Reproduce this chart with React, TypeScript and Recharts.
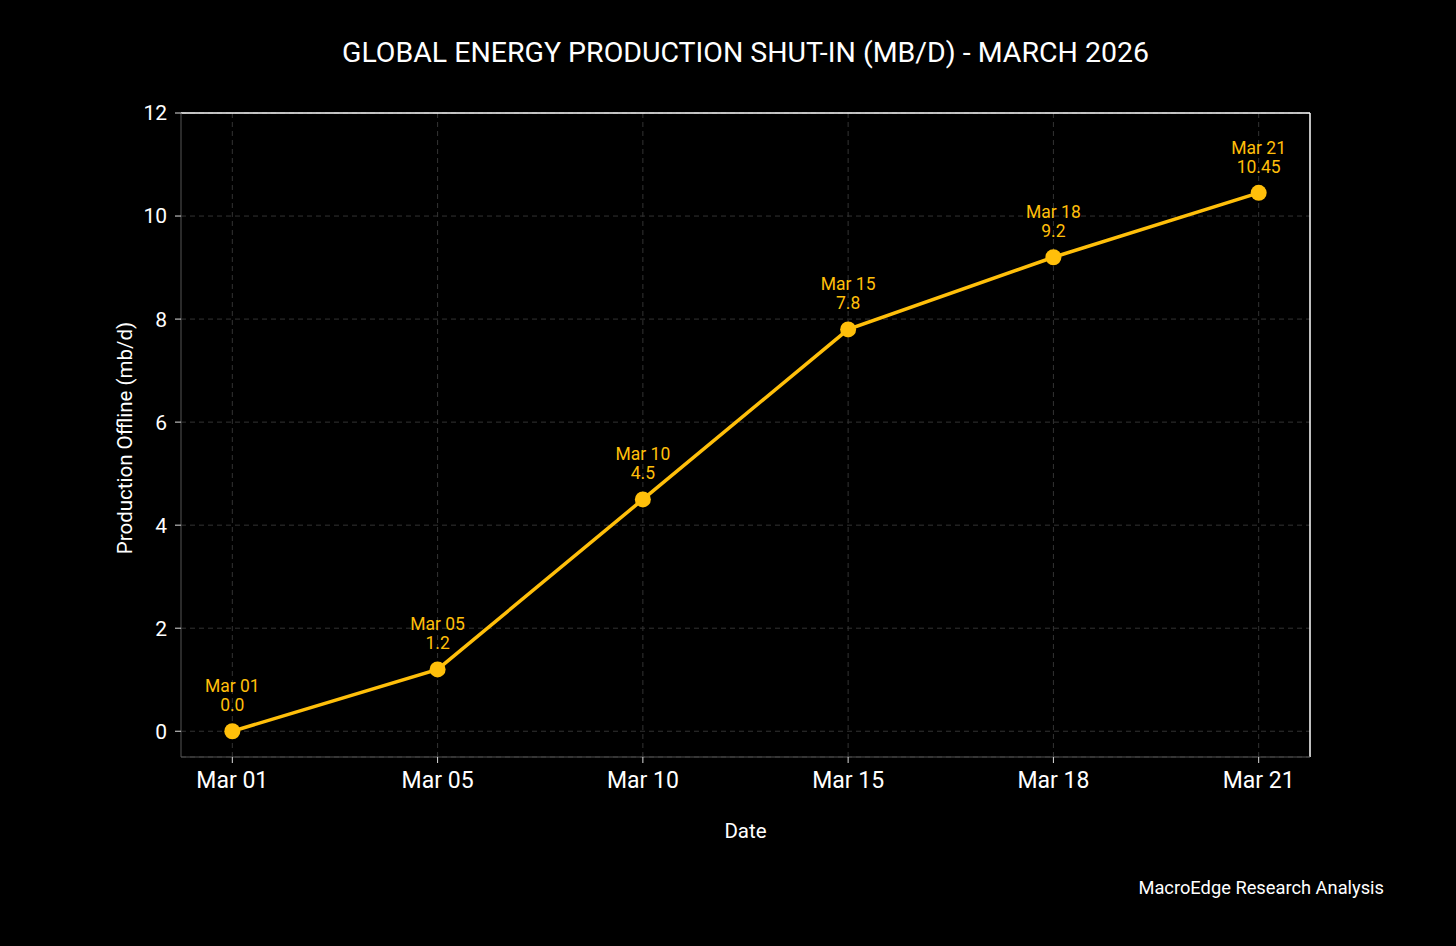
import React from "react";
import {
  ComposedChart,
  Line,
  XAxis,
  YAxis,
  CartesianGrid,
  ReferenceLine,
  LabelList,
  Label,
} from "recharts";

const dateLabels = ["Mar 01", "Mar 05", "Mar 10", "Mar 15", "Mar 18", "Mar 21"];
const shutInValues = [0, 1.2, 4.5, 7.8, 9.2, 10.45];
const yTicks = [0, 2, 4, 6, 8, 10, 12];

const data = dateLabels.map((d, i) => ({ idx: i, date: d, value: shutInValues[i] }));

const FONT = "Roboto, 'Noto Sans', sans-serif";
const YELLOW = "#FFBF0A";

const fmt = (v: number) => (Number.isInteger(v) ? v.toFixed(1) : String(v));

const PointLabel = (props: any) => {
  const { x, y, index } = props;
  const d = data[index];
  return (
    <text x={x} y={y} textAnchor="middle" fill={YELLOW} fontSize={17.5} fontFamily={FONT}>
      <tspan x={x} dy={-39}>{d.date}</tspan>
      <tspan x={x} dy={19}>{fmt(d.value)}</tspan>
    </text>
  );
};

export default function App() {
  return (
    <div
      style={{
        position: "absolute",
        left: 0,
        top: 0,
        width: 1456,
        height: 946,
        background: "#000",
        fontFamily: FONT,
      }}
    >
      <div
        style={{
          position: "absolute",
          left: 181,
          width: 1129,
          top: 35,
          textAlign: "center",
          color: "#fff",
          fontSize: 28.5,
          lineHeight: "36px",
        }}
      >
        GLOBAL ENERGY PRODUCTION SHUT-IN (MB/D) - MARCH 2026
      </div>
      <div
        style={{
          position: "absolute",
          right: 1456 - 1384,
          top: 876,
          color: "#fff",
          fontSize: 18.3,
          lineHeight: "24px",
        }}
      >
        MacroEdge Research Analysis
      </div>
      <ComposedChart
        width={1456}
        height={946}
        data={data}
        margin={{ top: 113, right: 146, bottom: 189 - 80, left: 121 }}
        style={{ position: "absolute", left: 0, top: 0 }}
      >
        <CartesianGrid stroke="#333" strokeDasharray="5 4" strokeWidth={1} verticalValues={[0, 1, 2, 3, 4, 5]} />
        <XAxis
          dataKey="idx"
          type="number"
          domain={[-0.25, 5.25]}
          ticks={[0, 1, 2, 3, 4, 5]}
          tickFormatter={(v: number) => dateLabels[v]}
          stroke="#555"
          tickLine={{ stroke: "#ddd" }}
          tickSize={6}
          tick={{ fill: "#fff", fontSize: 23, fontFamily: FONT, dy: 7 }}
          height={80}
          interval={0}
        >
          <Label value="Date" position="insideBottom" offset={0} dy={1} fill="#fff" fontSize={20.5} fontFamily={FONT} />
        </XAxis>
        <YAxis
          type="number"
          domain={[-0.5, 12]}
          ticks={yTicks}
          allowDataOverflow
          width={60}
          stroke="#555"
          tickLine={{ stroke: "#ddd" }}
          tickSize={6}
          tick={{ fill: "#fff", fontSize: 21, fontFamily: FONT, dx: -6 }}
        >
          <Label
            value="Production Offline (mb/d)"
            angle={-90}
            position="insideLeft"
            dx={-1}
            dy={3}
            style={{ textAnchor: "middle" }}
            fill="#fff"
            fontSize={20.5}
            fontFamily={FONT}
          />
        </YAxis>
        <ReferenceLine y={12} stroke="#fff" strokeWidth={1.5} />
        <ReferenceLine x={5.25} stroke="#fff" strokeWidth={1.5} />
        <Line
          dataKey="value"
          stroke={YELLOW}
          strokeWidth={3.5}
          dot={{ r: 8, fill: YELLOW, stroke: YELLOW, strokeWidth: 0 }}
          activeDot={false}
          isAnimationActive={false}
        >
          <LabelList dataKey="value" content={PointLabel} />
        </Line>
      </ComposedChart>
    </div>
  );
}
